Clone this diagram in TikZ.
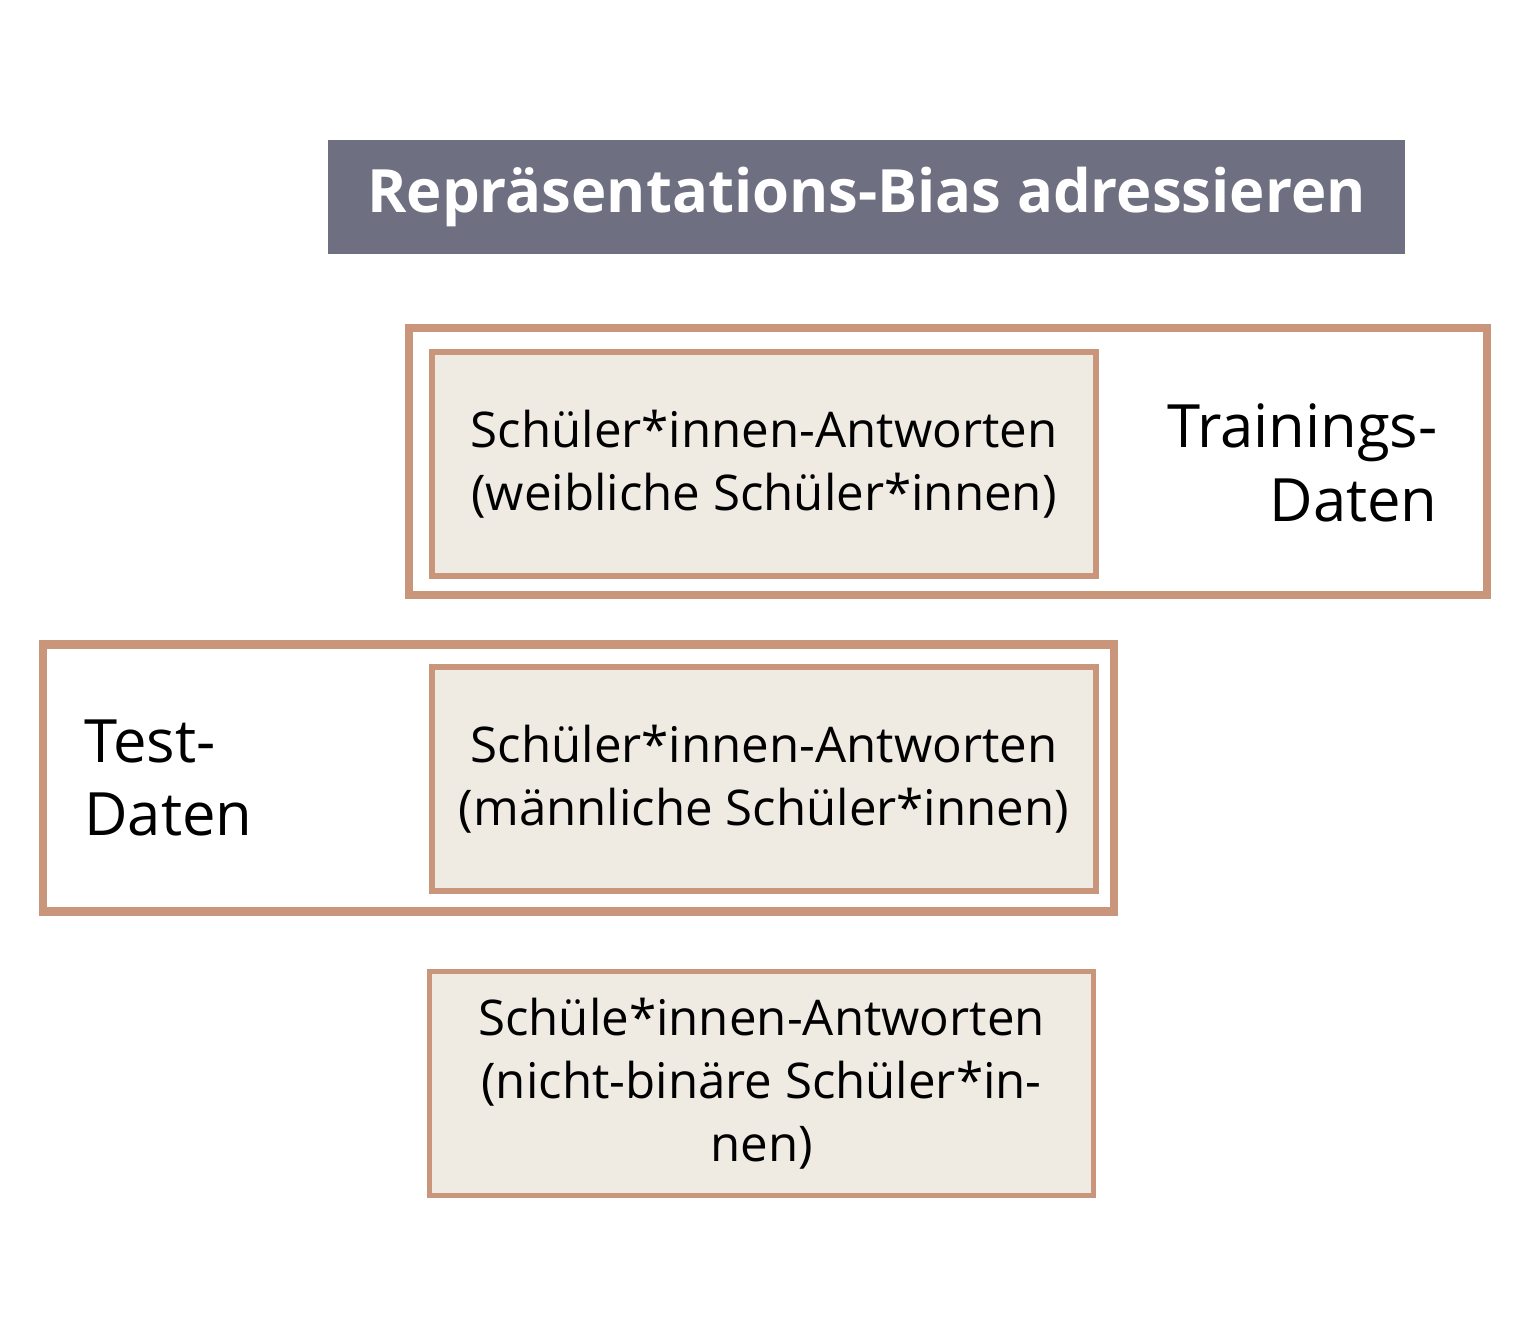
\documentclass[tikz,border=0pt]{standalone}
\usepackage{fontspec}
\setmainfont{Open Sans}
\usepackage{tikz}
\definecolor{rahmen}{HTML}{C9957B}
\definecolor{kasten}{HTML}{EFEAE2}
\definecolor{kopf}{HTML}{6E6F80}
\begin{document}
\begin{tikzpicture}
		\begingroup
		\tikzset{
			box/.style={draw=rahmen, fill=kasten, line width=1.5pt, minimum width=6.64cm, minimum height=2.24cm, align=center, font=\fontsize{14}{18}\selectfont},
			frame/.style={draw=rahmen, line width=2.3pt, minimum height=2.67cm},
			lbl/.style={font=\fontsize{17}{21}\selectfont}
		}
		\useasboundingbox (0,0) rectangle (15.29,13.38);
		
		\node[fill=kopf, text=white, minimum width=10.77cm, minimum height=1.14cm, font=\bfseries\fontsize{17}{20}\selectfont] (head) at (8.665, 11.41) {Repräsentations-Bias adressieren};
		
		\node[frame, minimum width=10.78cm] (train) at (9.48, 8.765) {};
		\node[frame, minimum width=10.71cm] (test) at (5.785, 5.6) {};
		
		\node[box] (w) at (7.64, 8.74) {Schüler*innen-Antworten\\(weibliche Schüler*innen)};
		\node[box] (m) at (7.64, 5.59) {Schüler*innen-Antworten\\(männliche Schüler*innen)};
		\node[box] (n) at (7.615, 2.545) {Schüle*innen-Antworten\\(nicht-binäre Schüler*in-\\nen)};
		
		\node[lbl, align=right, anchor=east] (tl) at (14.5, 8.75) {Trainings-\\Daten};
		\node[lbl, align=left, anchor=west] (dl) at (0.72, 5.6) {Test-\\Daten};
		\endgroup
\end{tikzpicture}
\end{document}
